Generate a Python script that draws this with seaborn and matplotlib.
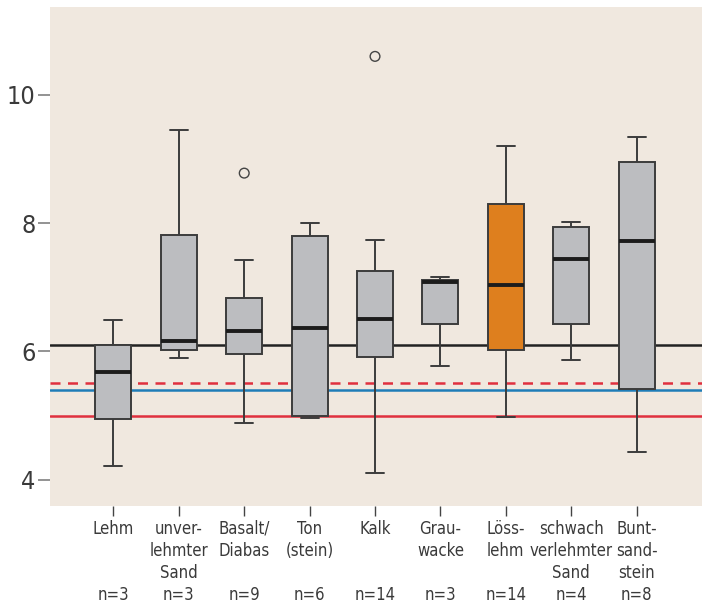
import numpy as np
import pandas as pd
import matplotlib
matplotlib.use("Agg")
import matplotlib.pyplot as plt
from matplotlib import font_manager
import seaborn as sns

# ---- data ----
categories = ["Lehm", "unver-\nlehmter\nSand", "Basalt/\nDiabas", "Ton\n(stein)", "Kalk",
              "Grau-\nwacke", "Löss-\nlehm", "schwach\nverlehmter\nSand", "Bunt-\nsand-\nstein"]
n_counts = [3, 3, 9, 6, 14, 3, 14, 4, 8]
whisker_low = [4.22, 5.90, 4.88, 4.96, 4.11, 5.78, 4.97, 5.86, 4.43]
q1 = [4.95, 6.03, 5.96, 5.00, 5.91, 6.43, 6.03, 6.43, 5.41]
median = [5.68, 6.17, 6.32, 6.36, 6.50, 7.08, 7.04, 7.44, 7.72]
q3 = [6.10, 7.81, 6.83, 7.80, 7.25, 7.11, 8.30, 7.94, 8.95]
whisker_high = [6.49, 9.46, 7.43, 8.00, 7.73, 7.16, 9.20, 8.02, 9.35]
outlier_cat = ["Basalt/\nDiabas", "Kalk"]
outlier_val = [8.78, 10.60]
highlight = "Löss-\nlehm"
ref_black = 6.1
ref_red_dashed = 5.5
ref_blue = 5.4
ref_red = 5.0
y_ticks = [4, 6, 8, 10]

# ---- build long table ----
rows = []
for c, lo, a, m, b, hi in zip(categories, whisker_low, q1, median, q3, whisker_high):
    for v in (lo, a, m, b, hi):
        rows.append({"cat": c, "value": v})
df = pd.DataFrame(rows)

GRAY = "#bcbdc0"
ORANGE = "#de7f1e"
palette = {c: (ORANGE if c == highlight else GRAY) for c in categories}

sns.set_theme(style="white")
plt.rcParams["font.family"] = ["DejaVu Sans"]

# pick a condensed sans face if one is installed
cond_file = None
for f in font_manager.fontManager.ttflist:
    nm = f.name.lower()
    st = str(f.stretch).lower()
    fn = f.fname.lower()
    is_cond = ("narrow" in nm or "condensed" in nm or "condensed" in st
               or "condensed" in fn or "narrow" in fn)
    if not is_cond or f.style != "normal" or "mono" in nm or "mono" in fn:
        continue
    if "serif" in fn and "sans" not in fn:
        continue
    if str(f.weight) not in ("400", "normal", "book", "regular"):
        continue
    cond_file = f.fname
    break

if cond_file is not None:
    xfont = font_manager.FontProperties(fname=cond_file, size=12)
    yfont = font_manager.FontProperties(fname=cond_file, size=18)
else:
    xfont = font_manager.FontProperties(family=["Liberation Sans", "DejaVu Sans"], size=11)
    yfont = font_manager.FontProperties(family=["Liberation Sans", "DejaVu Sans"], size=16)

fig = plt.figure(figsize=(7.07, 6.05), dpi=100)
ax = fig.add_axes([50 / 707, 1 - 506 / 605, 652 / 707, 499 / 605])
ax.set_facecolor("#f0e8df")

# reference lines (behind boxes)
ax.axhline(ref_black, color="#222222", lw=1.8, zorder=1.5)
ax.axhline(ref_red_dashed, color="#e0303e", lw=1.8, ls=(0, (4, 3)), zorder=1.5)
ax.axhline(ref_blue, color="#1f7db8", lw=1.8, zorder=1.5)
ax.axhline(ref_red, color="#e0303e", lw=1.8, zorder=1.5)

sns.boxplot(data=df, x="cat", y="value", order=categories, hue="cat",
            palette=palette, saturation=1, legend=False, whis=(0, 100), width=0.55,
            showfliers=False, linecolor="#3c3c3c", linewidth=1.4,
            medianprops=dict(color="#1c1c1c", linewidth=2.8),
            ax=ax)

n_before = len(ax.collections)
sns.stripplot(x=outlier_cat, y=outlier_val, order=categories, jitter=False,
              size=7, color="#444444", ax=ax)
for coll in ax.collections[n_before:]:
    coll.set_facecolor("none")
    coll.set_edgecolor("#444444")
    coll.set_linewidth(1.0)
    coll.set_zorder(3)

ax.set_xlim(-0.97, 9.0)
ax.set_ylim(3.59, 11.37)
ax.set_yticks(y_ticks)
ax.set_yticklabels([str(t) for t in y_ticks])

labels = []
for c, n in zip(categories, n_counts):
    nlines = c.count("\n") + 1
    labels.append(c + "\n" * (4 - nlines) + f"n={n}")
ax.set_xticks(range(len(categories)))
ax.set_xticklabels(labels, color="#3a3a3a", linespacing=1.28)
for t in ax.get_xticklabels():
    t.set_fontproperties(xfont)
for t in ax.get_yticklabels():
    t.set_fontproperties(yfont)
    t.set_color("#3a3a3a")
ax.set_xlabel("")
ax.set_ylabel("")

ax.tick_params(axis="y", left=True, length=8.5, width=1.2, color="#808080", pad=2)
ax.tick_params(axis="x", bottom=True, length=7, width=1.0, color="#444444", pad=3)
for s in ax.spines.values():
    s.set_visible(False)

fig.savefig("out.png", dpi=100)
